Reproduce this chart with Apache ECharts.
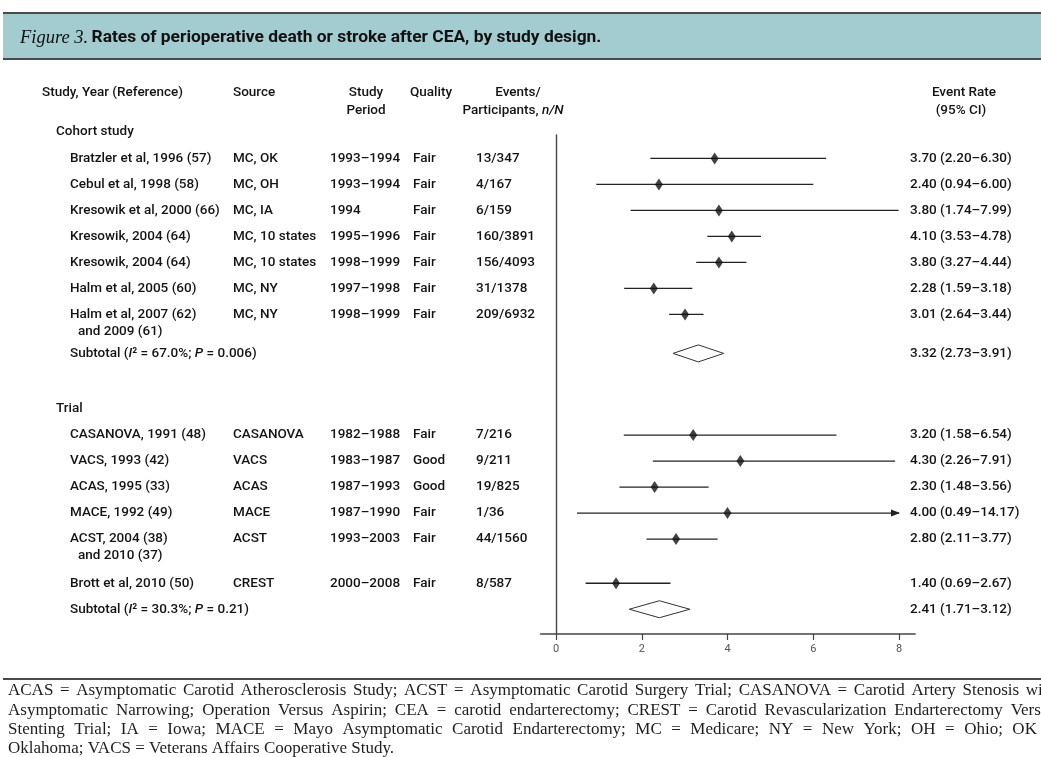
<!DOCTYPE html>
<html><head><meta charset="utf-8">
<script src="https://cdn.jsdelivr.net/npm/echarts@6/dist/echarts.min.js"></script>
<style>html,body{margin:0;padding:0;background:#fff}#c{width:1041px;height:757px}</style>
</head><body><div id="c"></div>
<script>
// ---------- DATA ----------
const studies = ['Bratzler et al, 1996 (57)','Cebul et al, 1998 (58)','Kresowik et al, 2000 (66)','Kresowik, 2004 (64)','Kresowik, 2004 (64)','Halm et al, 2005 (60)','Halm et al, 2007 (62)','CASANOVA, 1991 (48)','VACS, 1993 (42)','ACAS, 1995 (33)','MACE, 1992 (49)','ACST, 2004 (38)','Brott et al, 2010 (50)'];
const studiesLine2 = ['','','','','','','and 2009 (61)','','','','','and 2010 (37)',''];
const sources = ['MC, OK','MC, OH','MC, IA','MC, 10 states','MC, 10 states','MC, NY','MC, NY','CASANOVA','VACS','ACAS','MACE','ACST','CREST'];
const periods = ['1993–1994','1993–1994','1994','1995–1996','1998–1999','1997–1998','1998–1999','1982–1988','1983–1987','1987–1993','1987–1990','1993–2003','2000–2008'];
const quality = ['Fair','Fair','Fair','Fair','Fair','Fair','Fair','Fair','Good','Good','Fair','Fair','Fair'];
const events = ['13/347','4/167','6/159','160/3891','156/4093','31/1378','209/6932','7/216','9/211','19/825','1/36','44/1560','8/587'];
const rate  = [3.70,2.40,3.80,4.10,3.80,2.28,3.01,3.20,4.30,2.30,4.00,2.80,1.40];
const lower = [2.20,0.94,1.74,3.53,3.27,1.59,2.64,1.58,2.26,1.48,0.49,2.11,0.69];
const upper = [6.30,6.00,7.99,4.78,4.44,3.18,3.44,6.54,7.91,3.56,14.17,3.77,2.67];
const studyGroup = [0,0,0,0,0,0,0,1,1,1,1,1,1];
const groups = ['Cohort study','Trial'];
const subtotalI2 = ['67.0%','30.3%'];
const subtotalP = ['0.006','0.21'];
const subRate  = [3.32,2.41];
const subLower = [2.73,1.71];
const subUpper = [3.91,3.12];
const xTicks = [0,2,4,6,8];
const footnoteLines = [
  'ACAS = Asymptomatic Carotid Atherosclerosis Study; ACST = Asymptomatic Carotid Surgery Trial; CASANOVA = Carotid Artery Stenosis with',
  'Asymptomatic Narrowing; Operation Versus Aspirin; CEA = carotid endarterectomy; CREST = Carotid Revascularization Endarterectomy Versus',
  'Stenting Trial; IA = Iowa; MACE = Mayo Asymptomatic Carotid Endarterectomy; MC = Medicare; NY = New York; OH = Ohio; OK =',
  'Oklahoma; VACS = Veterans Affairs Cooperative Study.'
];

// ---------- LAYOUT ----------
const FONT = 'Roboto, "Noto Sans", sans-serif';
const FS = 13.5;
const FW = 500;
const TXT = '#141414';
const col = {study: 70, study2: 78, header: 56, source: 233, period: 330, quality: 413, events: 476, rate: 910};
const rows = [];
let yy = -0.12;
groups.forEach((g, gi) => {
  if (gi > 0) yy += 2.12;
  rows.push({type: 'header', g: gi, y: yy});
  let first = true, prevTwo = false;
  studyGroup.forEach((sg, i) => {
    if (sg !== gi) return;
    yy += first ? 1.02 : (prevTwo ? 1.7 : 1);
    rows.push({type: 'study', i: i, y: yy});
    first = false; prevTwo = !!studiesLine2[i];
  });
  yy += prevTwo ? 1.5 : 1;
  rows.push({type: 'subtotal', g: gi, y: yy});
});
const Y_MAX = 499 / 26;
const studyRows = rows.filter(r => r.type === 'study');
const subRows = rows.filter(r => r.type === 'subtotal');
const fmt = v => v.toFixed(2);
const rateText = (r, l, u) => fmt(r) + ' (' + fmt(l) + '–' + fmt(u) + ')';
const FONT_STR = FW + ' ' + FS + 'px ' + FONT;

function txt(x, y, text, extra) {
  return Object.assign({type: 'text', x: x, y: y, silent: true,
    style: Object.assign({text: text, fill: TXT, font: FONT_STR, verticalAlign: 'middle', align: 'left'}, extra || {})});
}

// justified footnote, word by word
const FN_FONT = '17px "Liberation Serif", serif';
const FN_LEFT = 8, FN_RIGHT = 1056, FN_TOP = 691, FN_LH = 19.3;
const mctx = document.createElement('canvas').getContext('2d');
mctx.font = FN_FONT;
const footnoteGraphics = [];
footnoteLines.forEach((line, k) => {
  const words = line.split(' ');
  const widths = words.map(w => mctx.measureText(w).width);
  const total = widths.reduce((a, b) => a + b, 0);
  const justify = k < footnoteLines.length - 1;
  const gap = justify ? (FN_RIGHT - FN_LEFT - total) / (words.length - 1) : mctx.measureText(' ').width;
  let x = FN_LEFT;
  words.forEach((w, j) => {
    footnoteGraphics.push({type: 'text', x: x, y: FN_TOP + k * FN_LH, silent: true,
      style: {text: w, verticalAlign: 'middle', fill: '#1e1e1e', font: FN_FONT}});
    x += widths[j] + gap;
  });
});

const chart = echarts.init(document.getElementById('c'), null, {renderer: 'canvas'});
chart.setOption({
  animation: false,
  backgroundColor: '#fff',
  grid: {left: 556, right: 1041 - 899, top: 135, bottom: 757 - 634, containLabel: false},
  xAxis: {
    type: 'value', position: 'bottom', min: xTicks[0], max: xTicks[xTicks.length - 1], interval: 2,
    axisLine: {show: false, onZero: false},
    axisTick: {show: true, length: 6, lineStyle: {color: '#444', width: 1.2}},
    axisLabel: {fontSize: 11, color: '#555', fontFamily: FONT, margin: 10},
    splitLine: {show: false}
  },
  yAxis: {
    type: 'value', inverse: true, min: 0, max: Y_MAX,
    axisLine: {show: true, onZero: false, lineStyle: {color: '#444', width: 1.4}},
    axisTick: {show: false}, axisLabel: {show: false}, splitLine: {show: false}
  },
  graphic: [
    {type: 'rect', shape: {x: 3, y: 13, width: 1040, height: 46}, style: {fill: '#a3ccd0'}, silent: true},
    {type: 'line', shape: {x1: 3, y1: 13, x2: 1041, y2: 13}, style: {stroke: '#4a4a4a', lineWidth: 2}},
    {type: 'line', shape: {x1: 3, y1: 59, x2: 1041, y2: 59}, style: {stroke: '#4a4a4a', lineWidth: 2}},
    {type: 'text', x: 20, y: 38, style: {
      text: '{it|Figure 3.} {b|Rates of perioperative death or stroke after CEA, by study design.}',
      verticalAlign: 'middle', fill: '#111',
      rich: {it: {fontFamily: '"Liberation Serif", serif', fontStyle: 'italic', fontSize: 18.5, fill: '#111'},
             b: {fontFamily: FONT, fontWeight: 'bold', fontSize: 17.4, fill: '#111'}}}},
    txt(42, 93, 'Study, Year (Reference)'),
    txt(col.source, 93, 'Source'),
    txt(366, 93, 'Study', {align: 'center'}),
    txt(366, 111, 'Period', {align: 'center'}),
    txt(431, 93, 'Quality', {align: 'center'}),
    txt(518, 93, 'Events/', {align: 'center'}),
    {type: 'text', x: 513, y: 111, silent: true, style: {text: 'Participants, {i|n/N}', align: 'center', verticalAlign: 'middle',
      font: FONT_STR, fill: TXT, rich: {i: {fontStyle: 'italic', fontWeight: FW, fontFamily: FONT, fontSize: FS, fill: TXT}}}},
    txt(964, 93, 'Event Rate', {align: 'center'}),
    txt(961, 111, '(95% CI)', {align: 'center'}),
    {type: 'line', shape: {x1: 3, y1: 679, x2: 1041, y2: 679}, style: {stroke: '#4a4a4a', lineWidth: 2}}
  ].concat(footnoteGraphics),
  series: [
    { // axis baseline (extends slightly past the scale)
      type: 'custom', coordinateSystem: 'cartesian2d', clip: false, silent: true,
      data: [[0, Y_MAX]],
      renderItem: function (params, api) {
        const a = api.coord([-0.37, Y_MAX]), b = api.coord([8.39, Y_MAX]);
        return {type: 'line', shape: {x1: a[0], y1: a[1], x2: b[0], y2: b[1]}, style: {stroke: '#444', lineWidth: 1.4}};
      }
    },
    { // table text
      type: 'custom', coordinateSystem: 'cartesian2d', clip: false, silent: true,
      data: rows.map(r => [0, r.y]),
      renderItem: function (params, api) {
        const r = rows[params.dataIndex];
        const py = api.coord([0, r.y])[1];
        const ch = [];
        if (r.type === 'header') {
          ch.push(txt(col.header, py, groups[r.g]));
        } else if (r.type === 'study') {
          const i = r.i;
          ch.push(txt(col.study, py, studies[i]));
          if (studiesLine2[i]) ch.push(txt(col.study2, py + 17, studiesLine2[i]));
          ch.push(txt(col.source, py, sources[i]));
          ch.push(txt(col.period, py, periods[i]));
          ch.push(txt(col.quality, py, quality[i]));
          ch.push(txt(col.events, py, events[i]));
          ch.push(txt(col.rate, py, rateText(rate[i], lower[i], upper[i])));
        } else {
          const g = r.g;
          ch.push({type: 'text', x: col.study, y: py, style: {
            text: 'Subtotal ({i|I}² = ' + subtotalI2[g] + '; {i|P} = ' + subtotalP[g] + ')',
            verticalAlign: 'middle', font: FONT_STR, fill: TXT,
            rich: {i: {fontStyle: 'italic', fontWeight: FW, fontFamily: FONT, fontSize: FS, fill: TXT}}}});
          ch.push(txt(col.rate, py, rateText(subRate[g], subLower[g], subUpper[g])));
        }
        return {type: 'group', children: ch};
      }
    },
    { // confidence intervals
      type: 'custom', coordinateSystem: 'cartesian2d', clip: false, silent: true,
      data: studyRows.map(r => [lower[r.i], r.y, upper[r.i]]),
      renderItem: function (params, api) {
        const lo = api.value(0), y = api.value(1), hi = api.value(2);
        const xmax = xTicks[xTicks.length - 1];
        const a = api.coord([lo, y]), b = api.coord([Math.min(hi, xmax), y]);
        const ch = [{type: 'line', shape: {x1: a[0], y1: a[1], x2: b[0], y2: b[1]}, style: {stroke: '#222', lineWidth: 1.3}}];
        if (hi > xmax) {
          ch.push({type: 'polygon', shape: {points: [[b[0] + 1, b[1]], [b[0] - 8, b[1] - 3.5], [b[0] - 8, b[1] + 3.5]]}, style: {fill: '#222'}});
        }
        return {type: 'group', children: ch};
      }
    },
    { // point estimates
      type: 'scatter', silent: true, symbol: 'diamond', symbolSize: [8, 12],
      itemStyle: {color: '#111'}, z: 5,
      data: studyRows.map(r => [rate[r.i], r.y])
    },
    { // subtotal diamonds
      type: 'custom', coordinateSystem: 'cartesian2d', clip: false, silent: true,
      data: subRows.map(r => [subLower[r.g], subRate[r.g], subUpper[r.g], r.y]),
      renderItem: function (params, api) {
        const y = api.value(3);
        const l = api.coord([api.value(0), y]), c = api.coord([api.value(1), y]), u = api.coord([api.value(2), y]);
        return {type: 'polygon', shape: {points: [[l[0], l[1]], [c[0], c[1] - 8.5], [u[0], u[1]], [c[0], c[1] + 8.5]]},
          style: {fill: '#fff', stroke: '#333', lineWidth: 1}};
      }
    }
  ]
});
</script></body></html>
